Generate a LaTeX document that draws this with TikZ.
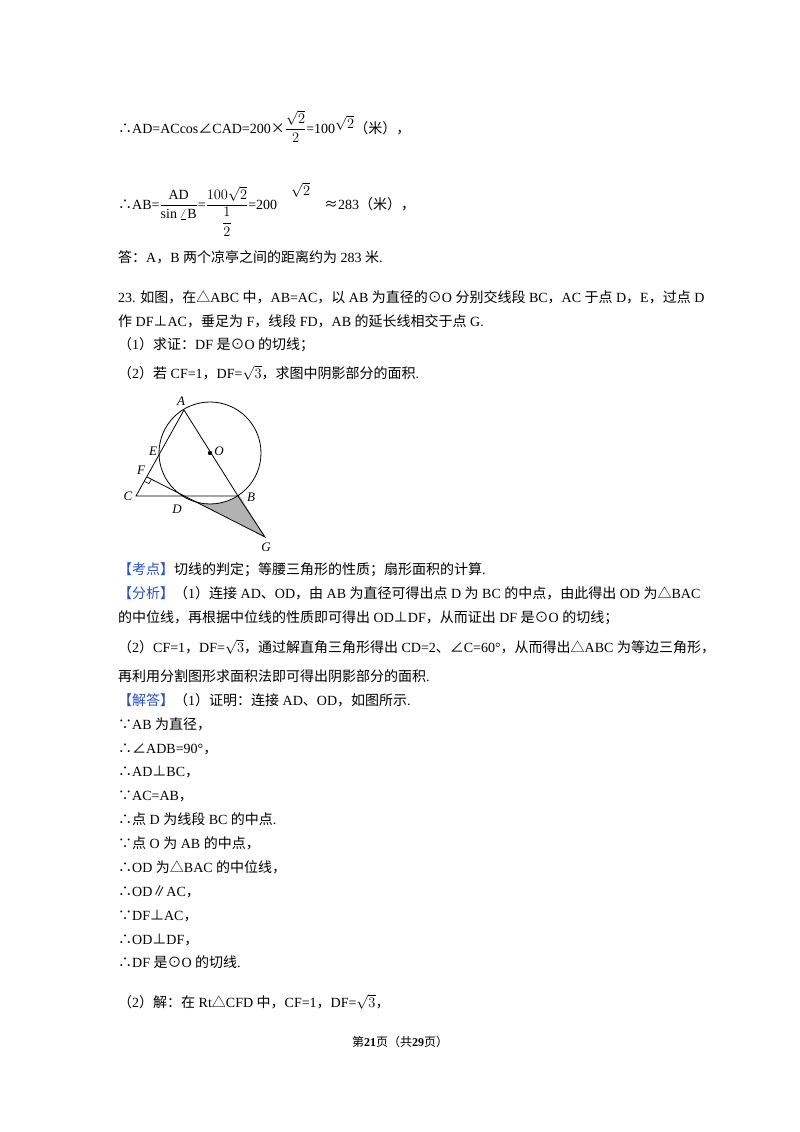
\documentclass[tikz,border=0pt]{standalone}
\usepackage{amsmath}
\usepackage{fontspec}
\usetikzlibrary{calc}
\setmainfont{Liberation Serif}
\newfontfamily\cjk{Noto Sans CJK SC}
\XeTeXinterchartokenstate=1
\newcount\cc
\cc="4E00 \loop \XeTeXcharclass\cc=1 \advance\cc1 \ifnum\cc<"A000 \repeat
\cc="3000 \loop \XeTeXcharclass\cc=1 \advance\cc1 \ifnum\cc<"3040 \repeat
\cc="FF00 \loop \XeTeXcharclass\cc=1 \advance\cc1 \ifnum\cc<"FF60 \repeat
\XeTeXcharclass"2234=1 \XeTeXcharclass"2235=1 \XeTeXcharclass"25B3=1
\XeTeXcharclass"2299=1 \XeTeXcharclass"22A5=1 \XeTeXcharclass"2220=1
\XeTeXcharclass"2225=1 \XeTeXcharclass"2248=1 \XeTeXcharclass"00D7=1
\XeTeXinterchartoks 0 1 = {\begingroup\cjk}
\XeTeXinterchartoks 4095 1 = {\begingroup\cjk}
\XeTeXinterchartoks 1 0 = {\endgroup}
\XeTeXinterchartoks 1 4095 = {\endgroup}
\definecolor{kblue}{RGB}{40,80,200}
\newcommand\upsq{\raisebox{5pt}{$\sqrt2$}}
\begin{document}
\begin{tikzpicture}[x=1pt,y=-1pt,
  tx/.style={anchor=base west,inner sep=0pt,font=\fontsize{14}{17}\selectfont},
  lbl/.style={inner sep=0pt,font=\fontsize{13}{15}\selectfont\itshape}]
\useasboundingbox[fill=white] (0,0) rectangle (800,1132);
\node[tx] (l1) at (118,133) {∴AD=ACcos∠CAD=200×$\dfrac{\sqrt2}{2}$=100\upsq（米），};
\node[tx] (l2) at (118,209) {∴AB=$\dfrac{\mathrm{AD}}{\sin\angle\mathrm{B}}$=$\dfrac{100\sqrt2}{\dfrac12}$=200\quad\raisebox{14pt}{$\sqrt2$}\quad ≈283（米），};
\node[tx] (l3) at (118,262) {答：A，B 两个凉亭之间的距离约为 283 米.};
\node[tx] (l4) at (118,302) {23. 如图，在△ABC 中，AB=AC，以 AB 为直径的⊙O 分别交线段 BC，AC 于点 D，E，过点 D};
\node[tx] (l5) at (118,326) {作 DF⊥AC，垂足为 F，线段 FD，AB 的延长线相交于点 G.};
\node[tx] (l6) at (118,349) {（1）求证：DF 是⊙O 的切线；};
\node[tx] (l7) at (118,378) {（2）若 CF=1，DF=$\sqrt3$，求图中阴影部分的面积.};
% figure
\coordinate (A) at (184,410); \coordinate (O) at (210,453);
\coordinate (B) at (238,496); \coordinate (C) at (136,496);
\coordinate (D) at (184,496); \coordinate (E) at (161,451);
\coordinate (F) at (147,477); \coordinate (G) at (265,537);
\fill[gray!60] (D) arc[start angle=121.8,end angle=56.3,radius=51] -- (G) -- cycle;
\draw[line width=0.8pt] (O) circle[radius=51];
\draw[line width=0.8pt] (A) -- (C) -- (B) -- (A);
\draw[line width=0.8pt] (F) -- (G) -- (B);
\draw[line width=0.6pt] ($(F)!5pt!(C)$) -- ++($(F)!5pt!(G)-(F)$) -- ($(F)!5pt!(G)$);
\fill (O) circle[radius=2.2];
\node[lbl] (nA) at (181,401) {A};
\node[lbl] (nO) at (219,451) {O};
\node[lbl] (nE) at (153,451) {E};
\node[lbl] (nF) at (141,470) {F};
\node[lbl] (nC) at (128,496) {C};
\node[lbl] (nD) at (177,509) {D};
\node[lbl] (nB) at (251,497) {B};
\node[lbl] (nG) at (266,547) {G};
% analysis
\node[tx] (l8) at (118,574) {\textcolor{kblue}{【考点】}切线的判定；等腰三角形的性质；扇形面积的计算.};
\node[tx] (l9) at (118,598) {\textcolor{kblue}{【分析】}（1）连接 AD、OD，由 AB 为直径可得出点 D 为 BC 的中点，由此得出 OD 为△BAC};
\node[tx] (l10) at (118,622) {的中位线，再根据中位线的性质即可得出 OD⊥DF，从而证出 DF 是⊙O 的切线；};
\node[tx] (l11) at (118,652) {（2）CF=1，DF=$\sqrt3$，通过解直角三角形得出 CD=2、∠C=60°，从而得出△ABC 为等边三角形，};
\node[tx] (l12) at (118,681) {再利用分割图形求面积法即可得出阴影部分的面积.};
\node[tx] (l13) at (118,705) {\textcolor{kblue}{【解答】}（1）证明：连接 AD、OD，如图所示.};
\node[tx] (l14) at (118,729) {∵AB 为直径，};
\node[tx] (l15) at (118,753) {∴∠ADB=90°，};
\node[tx] (l16) at (118,776) {∴AD⊥BC，};
\node[tx] (l17) at (118,800) {∵AC=AB，};
\node[tx] (l18) at (118,824) {∴点 D 为线段 BC 的中点.};
\node[tx] (l19) at (118,848) {∵点 O 为 AB 的中点，};
\node[tx] (l20) at (118,872) {∴OD 为△BAC 的中位线，};
\node[tx] (l21) at (118,896) {∴OD∥AC，};
\node[tx] (l22) at (118,920) {∵DF⊥AC，};
\node[tx] (l23) at (118,944) {∴OD⊥DF，};
\node[tx] (l24) at (118,967) {∴DF 是⊙O 的切线.};
\node[tx] (l25) at (118,1007) {（2）解：在 Rt△CFD 中，CF=1，DF=$\sqrt3$，};
\node[anchor=base,inner sep=0pt,font=\fontsize{12}{14}\selectfont] (ft) at (400,1046) {第\textbf{21}页（共\textbf{29}页）};
\end{tikzpicture}
\end{document}
